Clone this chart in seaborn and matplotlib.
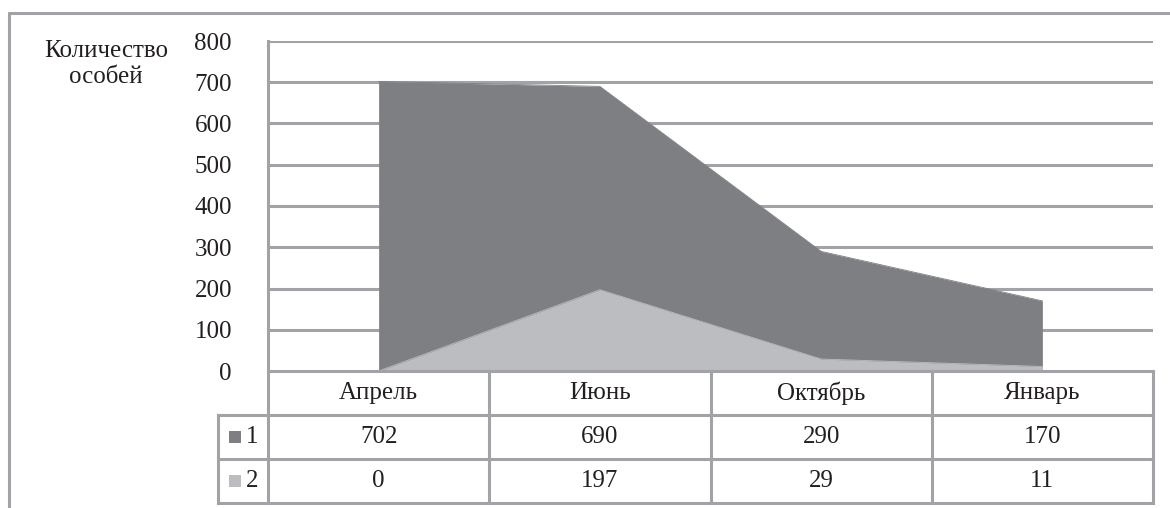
import matplotlib
matplotlib.use("Agg")
import matplotlib.pyplot as plt
from matplotlib.lines import Line2D
from matplotlib.patches import Rectangle
import numpy as np
import pandas as pd
import seaborn as sns

# Data
months = ["Апрель", "Июнь", "Октябрь", "Январь"]
series_names = ["1", "2"]
series1 = [702, 690, 290, 170]
series2 = [0, 197, 29, 11]
y_ticks = [0, 100, 200, 300, 400, 500, 600, 700, 800]
y_title = "Количество\nособей"

df = pd.DataFrame({"month": months, "1": series1, "2": series2})
df["pos"] = np.arange(len(months))

sns.set_theme(style="white")
FAMILY = ["Liberation Serif", "DejaVu Serif"]
plt.rcParams["font.family"] = FAMILY
plt.rcParams["font.serif"] = ["Liberation Serif", "DejaVu Serif"]

DARK = "#7e7f82"
LIGHT = "#bcbdc0"
GRID = "#a2a3a6"
TEXT = "#231f20"
LW = 2.2
FS = 18

W, H = 1170, 508
fig = plt.figure(figsize=(W / 100, H / 100), dpi=100)
fig.patch.set_facecolor("white")


def fx(x):
    return x / W


def fy(y):
    return 1 - y / H


# Plot area
left, right, top, bottom = 268, 1153, 41, 371
ax = fig.add_axes([fx(left), fy(bottom), fx(right) - fx(left), fy(top) - fy(bottom)])
ax.set_xlim(-0.5, len(months) - 0.5)
ax.set_ylim(0, 800)
ax.set_facecolor("white")

for v in y_ticks[1:]:
    ax.axhline(v, color=GRID, lw=LW, zorder=1)

ax.fill_between(df["pos"], df["1"], color=DARK, lw=0, zorder=2)
ax.fill_between(df["pos"], df["2"], color=LIGHT, lw=0, zorder=3)
sns.lineplot(data=df, x="pos", y="1", color=DARK, lw=0.6, ax=ax, zorder=2)
sns.lineplot(data=df, x="pos", y="2", color=LIGHT, lw=0.6, ax=ax, zorder=3)

ax.set_xlabel("")
ax.set_ylabel("")
ax.set_xticks([])
ax.set_yticks(y_ticks)
ax.set_yticklabels([str(v) for v in y_ticks], fontsize=FS, color=TEXT, family=FAMILY)
ax.tick_params(axis="y", length=0, pad=26)
for s in ["top", "right", "bottom"]:
    ax.spines[s].set_visible(False)
ax.spines["left"].set_color(GRID)
ax.spines["left"].set_linewidth(LW)
ax.spines["left"].set_zorder(4)

fig.text(fx(106), fy(64), y_title, ha="center", va="center", fontsize=FS,
         color=TEXT, linespacing=1.25, family=FAMILY)

# Data table under the chart
col_w = (right - left) / len(months)
lab_w = 50 / col_w
tab_top, tab_bot = 371, 503
tab = fig.add_axes([fx(left - 50), fy(tab_bot), fx(right) - fx(left - 50), fy(tab_top) - fy(tab_bot)])
x0 = -0.5 - lab_w
x1 = len(months) - 0.5
tab.set_xlim(x0, x1)
tab.set_ylim(3, 0)
tab.axis("off")


def tline(xs, ys):
    tab.add_line(Line2D(xs, ys, color=GRID, lw=LW, clip_on=False, solid_capstyle="projecting"))


tline([-0.5, x1], [0, 0])
for r in (1, 2, 3):
    tline([x0, x1], [r, r])
tline([x0, x0], [1, 3])
for i in range(len(months) + 1):
    tline([i - 0.5, i - 0.5], [0, 3])

for i, m in enumerate(months):
    tab.text(i, 0.5, m, ha="center", va="center", fontsize=FS, color=TEXT, family=FAMILY)
    tab.text(i, 1.5, str(series1[i]), ha="center", va="center", fontsize=FS, color=TEXT, family=FAMILY)
    tab.text(i, 2.5, str(series2[i]), ha="center", va="center", fontsize=FS, color=TEXT, family=FAMILY)

row_h = (tab_bot - tab_top) / 3
sq_w = 12 / col_w
sq_h = 12 / row_h
for r, (name, c) in enumerate(zip(series_names, [DARK, LIGHT]), start=1):
    sx = x0 + 11 / col_w
    tab.add_patch(Rectangle((sx, r + 0.5 - sq_h / 2), sq_w, sq_h, color=c, lw=0, clip_on=False))
    tab.text(x0 + 34 / col_w, r + 0.5, name, ha="center", va="center", fontsize=FS,
             color=TEXT, family=FAMILY)

# Outer frame (top and left edges)
fig.add_artist(Line2D([fx(9), 1.0], [fy(13), fy(13)], color=GRID, lw=LW, transform=fig.transFigure))
fig.add_artist(Line2D([fx(9), fx(9)], [fy(13), 0.0], color=GRID, lw=LW, transform=fig.transFigure))

fig.savefig("out.png", dpi=100, facecolor="white")
